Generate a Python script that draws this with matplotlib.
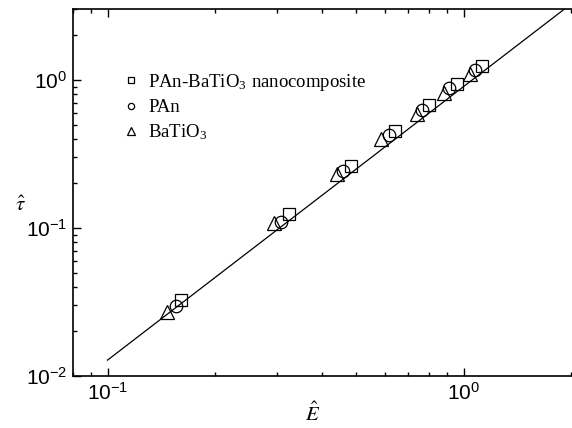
import matplotlib
matplotlib.use("Agg")
import matplotlib.pyplot as plt

plt.rcParams['font.family'] = ['Liberation Sans', 'DejaVu Sans']
plt.rcParams['mathtext.fontset'] = 'stix'
plt.rcParams['axes.unicode_minus'] = False

# (E_hat, tau_hat) for each material
E_comp = [0.161, 0.324, 0.483, 0.643, 0.802, 0.957, 1.126]
tau_comp = [0.0326, 0.124, 0.264, 0.454, 0.681, 0.943, 1.247]

E_pan = [0.1555, 0.308, 0.459, 0.616, 0.763, 0.912, 1.075]
tau_pan = [0.0299, 0.110, 0.243, 0.425, 0.627, 0.879, 1.168]

E_bto = [0.147, 0.293, 0.442, 0.587, 0.738, 0.881, 1.04]
tau_bto = [0.0269, 0.1076, 0.231, 0.399, 0.592, 0.821, 1.103]

# fitted power-law line, end points
E_fit = [0.1, 2.0]
tau_fit = [0.0128, 3.25]

labels = ["PAn-BaTiO$_\\mathregular{3}$ nanocomposite", "PAn", "BaTiO$_\\mathregular{3}$"]

fig = plt.figure(figsize=(5.72, 4.28), dpi=100)
# x = 2.0 falls just past the right edge of the picture
ax = fig.add_axes([73 / 572, 52 / 428, 500 / 572, 366.6 / 428])

ax.plot(E_fit, tau_fit, color="black", lw=0.9, zorder=3)
ax.plot(E_comp, tau_comp, ls="none", marker="s", ms=8, mfc="none", mec="black", mew=0.9, label=labels[0])
ax.plot(E_pan, tau_pan, ls="none", marker="o", ms=9, mfc="none", mec="black", mew=0.9, label=labels[1])
ax.plot(E_bto, tau_bto, ls="none", marker="^", ms=10.5, mfc="none", mec="black", mew=0.9, label=labels[2])

ax.set_xscale("log")
ax.set_yscale("log")
ax.set_xlim(0.08, 2.03)
ax.set_ylim(0.01, 3.0)

for s in ax.spines.values():
    s.set_linewidth(1.2)
ax.spines["right"].set_visible(False)

ax.tick_params(which="both", direction="in", top=True, right=False, width=1, labelsize=15)
ax.tick_params(which="major", length=6, pad=4)
ax.tick_params(which="minor", length=3)
ax.tick_params(axis="x", which="both", labeltop=False)

ax.set_xlabel(r"$\hat{E}$", fontsize=15)
ax.xaxis.set_label_coords(0.48, -0.07)
ax.set_ylabel(r"$\hat{\tau}$", fontsize=15, rotation=0)
ax.yaxis.set_label_coords(-0.105, 0.44)

ax.legend(loc="upper left", bbox_to_anchor=(0.083, 0.855), frameon=False,
          markerscale=0.5, handlelength=0.8, handletextpad=0.5,
          labelspacing=0.33, borderpad=0,
          prop={"family": "Liberation Serif", "size": 13.5})

fig.savefig("out.png", dpi=100)
